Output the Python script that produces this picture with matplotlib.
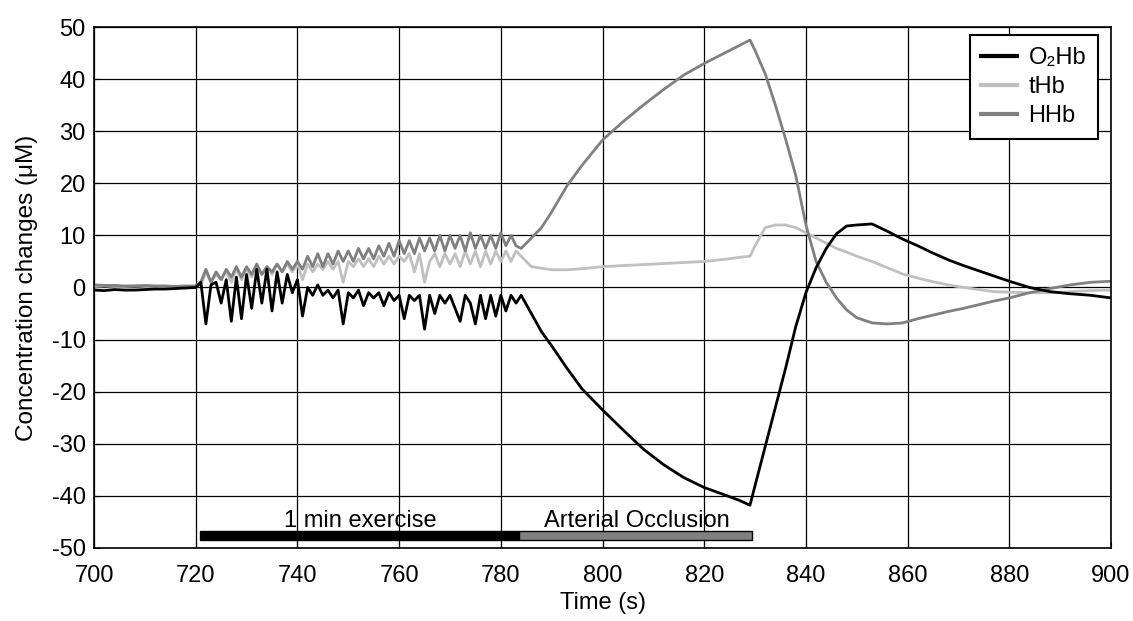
import numpy as np
import matplotlib.pyplot as plt

plt.rcParams['font.family'] = ['Liberation Sans', 'DejaVu Sans']
plt.rcParams['axes.unicode_minus'] = False

# ----- time axis (s) -----
t_base = [700, 702, 704, 706, 708, 710, 712, 714, 716, 718, 720]
t_ex = list(range(721, 785))
t_rest = [786, 788, 790, 793, 796, 800, 804, 808, 812, 816, 820, 824, 827, 829,
          830, 832, 834, 836, 838, 840, 842, 844, 846, 848, 850, 853, 856, 859,
          862, 865, 868, 871, 874, 877, 880, 884, 888, 892, 896, 900]

# ----- O2Hb -----
o2hb_base = [-0.5, -0.6, -0.4, -0.5, -0.5, -0.4, -0.3, -0.3, -0.2, -0.1, 0.0]
o2hb_ex = [1, -7, 0.5, 1, -3, 1.5, -6.5, 2, -6, 2.5,
           -4, 3.5, -3, 3.5, -4.5, 3, -3, 2.5, -1, 1.5,
           -5.5, 0, -1.5, 0.5, -1.5, -0.5, -2, -0.5, -7, -1,
           -2, -0.5, -3.5, -1, -2, -1, -3.5, -1, -2.5, -1.5,
           -6, -1.5, -2.5, -1.5, -8, -1.5, -5, -1.5, -3, -1.5,
           -4, -6.5, -1.5, -3, -7, -1.5, -6, -1.5, -5.5, -1.5,
           -4.5, -1.5, -3, -1.5]
o2hb_rest = [-5, -8.5, -11.2, -15.5, -19.5, -23.5, -27.3, -31, -34, -36.5, -38.4,
             -39.8, -40.9, -41.8, -38, -30.5, -23, -15.5, -7.5, -1, 3.8, 7.5,
             10.3, 11.8, 12, 12.2, 10.8, 9.3, 8, 6.6, 5.3, 4.2, 3.2, 2.2, 1.2,
             0, -0.8, -1.2, -1.5, -2]

# ----- tHb -----
thb_base = [0.2, 0.3, 0.2, 0.2, 0.3, 0.2, 0.2, 0.1, 0.2, 0.2, 0.2]
thb_ex = [0.5, 3, 1, 2.5, 1.5, 3, 1, 3.5, 1.5, 3.5,
          2, 4, 2.5, 4, 2.5, 4.5, 3, 4.5, 3, 4.5,
          1.5, 4.5, 3, 4.5, 3.5, 5, 3.5, 5, 1, 5,
          4, 5.5, 4, 5.5, 4, 6, 4.5, 6, 4.5, 6,
          5, 6.5, 3, 6.5, 1, 5, 6.5, 4, 6.5, 4.5,
          6.5, 4, 7, 4.5, 7, 4, 7, 4.5, 7, 5,
          7, 5, 7, 6]
thb_rest = [4, 3.7, 3.4, 3.4, 3.6, 4, 4.2, 4.4, 4.6, 4.8, 5, 5.4, 5.8, 6,
            8, 11.5, 12, 12, 11.5, 10.5, 9.5, 8.5, 7.5, 6.8, 6, 5, 3.8, 2.6,
            1.8, 1.1, 0.5, 0, -0.4, -0.8, -0.9, -1, -1, -0.8, -0.6, -0.5]

# ----- HHb -----
hhb_base = [0.5, 0.4, 0.4, 0.3, 0.3, 0.4, 0.3, 0.3, 0.2, 0.3, 0.3]
hhb_ex = [1, 3.5, 1, 3, 1.5, 3.5, 2, 4, 2, 4,
          2.5, 4.5, 2.5, 4, 3, 4.5, 3, 5, 3.5, 5,
          3.5, 6, 4, 6.5, 4, 6.5, 4.5, 7, 5, 7,
          5, 7.5, 5.5, 7.5, 5.5, 8, 6, 8.5, 6, 9,
          6.5, 9, 6.5, 9.5, 7, 9.5, 7, 10, 7, 10,
          7.5, 10, 7, 10.5, 7.5, 10, 7.5, 10, 7.5, 10.5,
          8, 10, 8, 7.5]
hhb_rest = [9.5, 11.5, 14.5, 19.5, 23.5, 28.3, 31.8, 35, 38, 40.8, 43, 45,
            46.5, 47.5, 45.5, 41, 35, 28.5, 21.5, 12, 5, 1, -2, -4.3, -5.8,
            -6.8, -7, -6.8, -6, -5.3, -4.6, -4, -3.3, -2.6, -2, -1, -0.2, 0.5,
            1, 1.2]

# ----- protocol bars -----
exercise_span = (720.8, 783.5)
occlusion_span = (783.5, 829.3)

t = np.array(t_base + t_ex + t_rest)
o2hb = np.array(o2hb_base + o2hb_ex + o2hb_rest)
thb = np.array(thb_base + thb_ex + thb_rest)
hhb = np.array(hhb_base + hhb_ex + hhb_rest)

fig = plt.figure(figsize=(11.33, 6.21), dpi=100)
ax = fig.add_axes([0.083, 0.1176, 0.8976, 0.8389])

l_thb, = ax.plot(t, thb, color='#c0c0c0', lw=2.0, label='tHb')
l_hhb, = ax.plot(t, hhb, color='#808080', lw=2.0, label='HHb')
l_o2, = ax.plot(t, o2hb, color='black', lw=2.0, label='O₂Hb')

bar_y = -47.6
ax.barh(bar_y, exercise_span[1] - exercise_span[0], left=exercise_span[0],
        height=1.7, color='black', edgecolor='black', lw=1, zorder=3)
ax.barh(bar_y, occlusion_span[1] - occlusion_span[0], left=occlusion_span[0],
        height=1.7, color='#808080', edgecolor='black', lw=1, zorder=3)
ax.text(sum(exercise_span) / 2 + 0.3, -45.9, '1 min exercise', ha='center',
        va='baseline', fontsize=17)
ax.text(sum(occlusion_span) / 2 + 0.3, -45.9, 'Arterial Occlusion', ha='center',
        va='baseline', fontsize=17)

ax.set_xlim(700, 900)
ax.set_ylim(-50, 50)
ax.set_xticks(np.arange(700, 901, 20))
ax.set_yticks(np.arange(-50, 51, 10))
ax.grid(True, color='black', lw=0.9)
ax.set_axisbelow(True)
ax.tick_params(direction='in', labelsize=17, length=4, color='black')
ax.tick_params(axis='x', pad=12)
ax.tick_params(axis='y', pad=6)
for s in ax.spines.values():
    s.set_linewidth(1.2)

ax.set_xlabel('Time (s)', fontsize=17, labelpad=4)
ax.set_ylabel('Concentration changes (μM)', fontsize=17.5, labelpad=10)

leg = ax.legend(handles=[l_o2, l_thb, l_hhb], loc='upper right',
                bbox_to_anchor=(1 - 13 / 1017, 1 - 8 / 521), borderaxespad=0,
                fontsize=17, fancybox=False, framealpha=1, edgecolor='black',
                handlelength=1.5, labelspacing=0.3, handletextpad=0.5,
                borderpad=0.5)
leg.get_frame().set_linewidth(1.5)
for h in leg.get_lines():
    h.set_linewidth(3)

fig.savefig('out.png', dpi=100)
